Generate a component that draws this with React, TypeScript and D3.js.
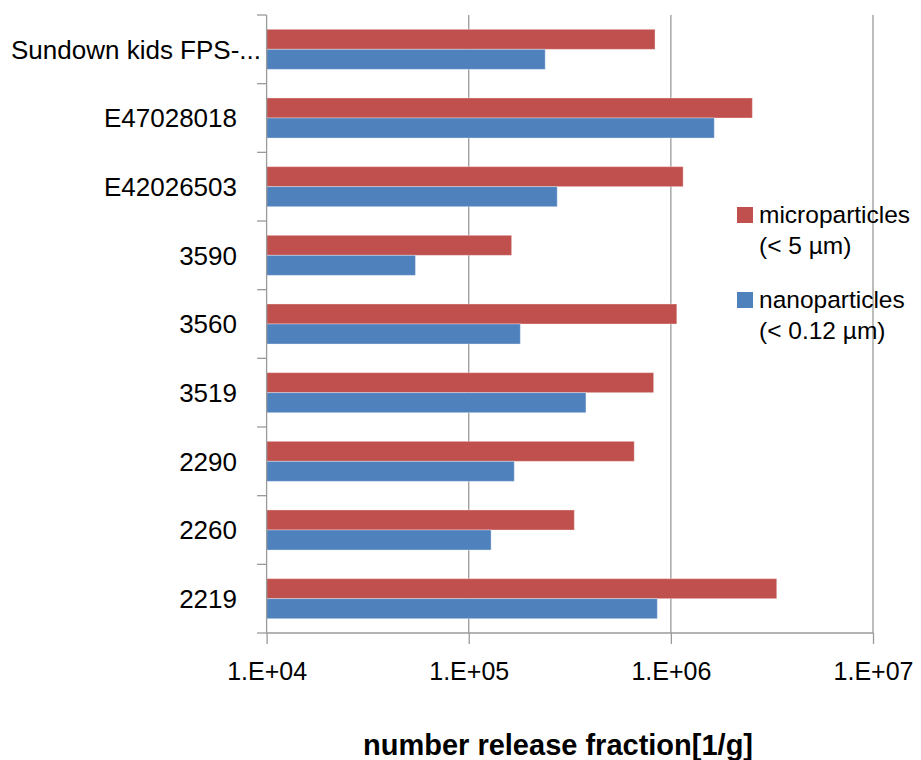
import React, { useRef, useEffect } from 'react';
import * as d3 from 'd3';

// values (log axis, 1/g)
const categories = [
  "Sundown kids FPS-...",
  "E47028018",
  "E42026503",
  "3590",
  "3560",
  "3519",
  "2290",
  "2260",
  "2219",
];
const microparticles = [8.35e5, 2.53e6, 1.15e6, 1.63e5, 1.07e6, 8.22e5, 6.59e5, 3.33e5, 3.34e6];
const nanoparticles = [2.39e5, 1.64e6, 2.74e5, 5.45e4, 1.8e5, 3.8e5, 1.68e5, 1.29e5, 8.57e5];
const tickValues = [1e4, 1e5, 1e6, 1e7];
const seriesNames = ["microparticles", "nanoparticles"];
const legendLines = [
  ["microparticles", "(< 5 \u00b5m)"],
  ["nanoparticles", "(< 0.12 \u00b5m)"],
];
const xTitle = "number release fraction[1/g]";

const colors = { microparticles: "#C0504D", nanoparticles: "#4F81BD" };
const FONT = "'Liberation Sans', Arial, sans-serif";

export default function App() {
  const svgRef = useRef<SVGSVGElement>(null);

  useEffect(() => {
    if (!svgRef.current) return;
    document.body.style.margin = "0";

    const width = 921;
    const height = 760;
    const margin = { top: 15, right: 48, bottom: 127, left: 266.6 };
    const innerBottom = height - margin.bottom;
    const innerRight = width - margin.right;

    const svg = d3.select(svgRef.current);
    svg.selectAll("*").remove();
    svg.attr("width", width).attr("height", height).style("font-family", FONT);

    const x = d3.scaleLog().domain([1e4, 1e7]).range([margin.left, innerRight]);
    const y = d3.scaleBand()
      .domain(categories)
      .range([margin.top, innerBottom])
      .paddingInner(0.4167)
      .paddingOuter(0.2083);
    const sub = d3.scaleBand().domain(seriesNames).range([0, y.bandwidth()]);

    const axisColor = "#9a9a9a";

    // vertical gridlines
    svg.append("g")
      .selectAll("line")
      .data(tickValues.slice(1))
      .join("line")
      .attr("x1", d => x(d))
      .attr("x2", d => x(d))
      .attr("y1", margin.top)
      .attr("y2", innerBottom)
      .attr("stroke", axisColor)
      .attr("stroke-width", 1.3);

    // bars
    const rows = categories.map((c, i) => ({
      name: c,
      microparticles: microparticles[i],
      nanoparticles: nanoparticles[i],
    }));

    const groups = svg.append("g")
      .selectAll("g")
      .data(rows)
      .join("g")
      .attr("transform", d => `translate(0,${y(d.name)})`);

    groups.selectAll("rect")
      .data(d => seriesNames.map(s => ({ key: s, value: (d as any)[s] as number })))
      .join("rect")
      .attr("x", x(1e4))
      .attr("y", d => sub(d.key) || 0)
      .attr("width", d => x(d.value) - x(1e4))
      .attr("height", sub.bandwidth())
      .attr("fill", d => (colors as any)[d.key])
      .attr("stroke", "rgba(255,255,255,0.35)")
      .attr("stroke-width", 1);

    // x axis
    const xAxis = svg.append("g")
      .attr("transform", `translate(0,${innerBottom})`)
      .call(d3.axisBottom(x)
        .tickValues(tickValues)
        .tickSize(11)
        .tickPadding(18)
        .tickFormat(d => "1.E+0" + Math.round(Math.log10(Number(d))))
      );
    xAxis.select(".domain")
      .attr("d", `M${margin.left},0H${innerRight}`)
      .attr("stroke", axisColor)
      .attr("stroke-width", 1.3);
    xAxis.selectAll(".tick line").attr("stroke", axisColor).attr("stroke-width", 1.3);
    xAxis.selectAll("text")
      .attr("font-size", 25)
      .attr("font-family", FONT)
      .attr("fill", "#000");

    // y axis: line plus ticks at category boundaries
    const yAxis = svg.append("g");
    yAxis.append("line")
      .attr("x1", margin.left)
      .attr("x2", margin.left)
      .attr("y1", margin.top)
      .attr("y2", innerBottom)
      .attr("stroke", axisColor)
      .attr("stroke-width", 1.3);
    const boundaries = d3.range(categories.length + 1).map(i => margin.top + i * y.step());
    yAxis.selectAll(".ytick")
      .data(boundaries)
      .join("line")
      .attr("class", "ytick")
      .attr("x1", margin.left - 9.5)
      .attr("x2", margin.left)
      .attr("y1", d => d)
      .attr("y2", d => d)
      .attr("stroke", axisColor)
      .attr("stroke-width", 1.3);

    const labels = yAxis.selectAll(".ylabel")
      .data(categories)
      .join("text")
      .attr("class", "ylabel")
      .attr("x", 237)
      .attr("y", d => (y(d) || 0) + y.bandwidth() / 2)
      .attr("dy", "0.36em")
      .attr("text-anchor", "end")
      .attr("font-size", 26)
      .attr("fill", "#000")
      .text(d => d);
    // long labels overflow to the right, like the original
    labels.each(function () {
      const el = this as SVGTextElement;
      const w = el.getComputedTextLength();
      if (237 - w < 11) {
        d3.select(el).attr("text-anchor", "start").attr("x", 11);
      }
    });

    // legend
    const legend = svg.append("g");
    const legendY = [223, 308];
    seriesNames.forEach((s, i) => {
      const g = legend.append("g").attr("transform", `translate(737,${legendY[i]})`);
      g.append("rect")
        .attr("x", 0)
        .attr("y", -16)
        .attr("width", 16)
        .attr("height", 16)
        .attr("fill", (colors as any)[s]);
      legendLines[i].forEach((t, j) => {
        g.append("text")
          .attr("x", 22)
          .attr("y", j * 31)
          .attr("font-size", 24.5)
          .attr("fill", "#000")
          .text(t);
      });
    });

    // axis title
    svg.append("text")
      .attr("x", 558)
      .attr("y", 755)
      .attr("text-anchor", "middle")
      .attr("font-size", 29)
      .attr("font-weight", "bold")
      .attr("fill", "#000")
      .text(xTitle);
  }, []);

  return <svg ref={svgRef} style={{ display: 'block' }} />;
}
